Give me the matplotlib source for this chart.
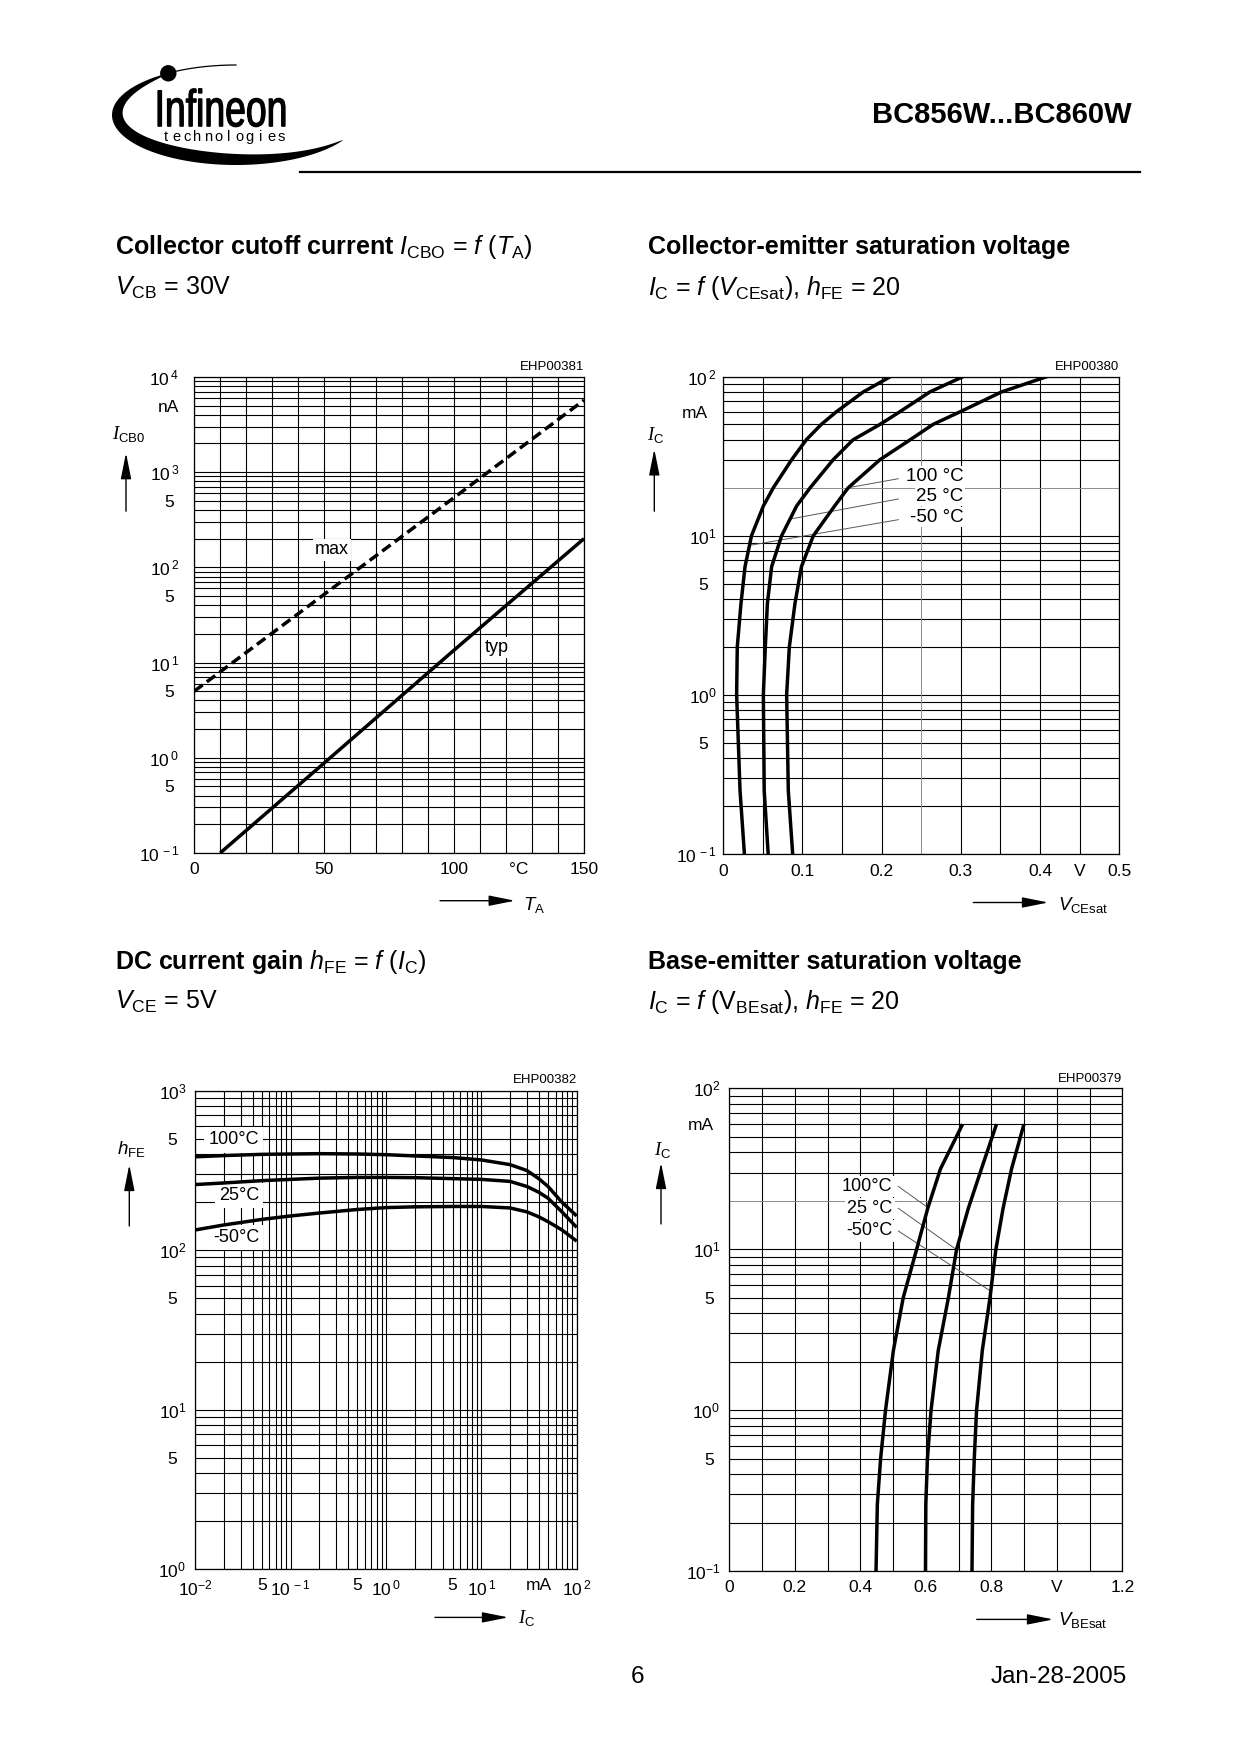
import numpy as np
import matplotlib
matplotlib.use('Agg')
import matplotlib.pyplot as plt
import matplotlib.ticker as mticker
from matplotlib.patches import Polygon, Circle, PathPatch
from matplotlib.textpath import TextPath
from matplotlib.font_manager import FontProperties
from matplotlib.transforms import Affine2D

plt.rcParams['font.family'] = ['Liberation Sans', 'DejaVu Sans']
plt.rcParams['mathtext.fontset'] = 'custom'
plt.rcParams['mathtext.rm'] = 'Liberation Sans'
plt.rcParams['mathtext.it'] = 'Liberation Sans:italic'
plt.rcParams['mathtext.bf'] = 'Liberation Sans:bold'
plt.rcParams['mathtext.sf'] = 'Liberation Serif:italic'
plt.rcParams['axes.linewidth'] = 0.9

# ---------------- data ----------------
# Collector cutoff current I_CBO (nA) vs T_A (deg C)
ta_typ = [10, 50, 100, 150]
icbo_typ = [0.1, 0.88, 13.5, 200]
ta_max = [0, 50, 100, 150]
icbo_max = [5, 52, 540, 5700]

# Collector-emitter saturation voltage: I_C (mA) vs V_CEsat (V)
ic_cesat = [0.1, 0.25, 1, 2, 3.75, 6.4, 10, 15.4, 20, 30, 40, 50, 60, 80, 100]
vcesat_m50 = [0.027, 0.0215, 0.0172, 0.018, 0.0227, 0.0278, 0.036, 0.051, 0.0635, 0.0866, 0.105, 0.124, 0.143, 0.177, 0.2115]
vcesat_25 = [0.057, 0.052, 0.0509, 0.0534, 0.056, 0.0614, 0.074, 0.093, 0.110, 0.139, 0.164, 0.198, 0.223, 0.261, 0.3032]
vcesat_100 = [0.0879, 0.0824, 0.0803, 0.0837, 0.0908, 0.099, 0.114, 0.141, 0.158, 0.198, 0.236, 0.265, 0.299, 0.3515, 0.409]

# DC current gain hFE vs I_C (mA)
ic_gain = [0.01, 0.02, 0.05, 0.1, 0.2, 0.5, 1, 2, 5, 10, 20, 30, 40, 50, 70, 100]
hfe_100 = [385, 392, 399, 401, 403, 401, 397, 390, 381, 368, 344, 316, 281, 251, 200, 164]
hfe_25 = [258, 264, 273, 278, 283, 286, 286, 285, 281, 278, 270, 251, 231, 212, 174, 139]
hfe_m50 = [134, 144, 156, 164, 171, 180, 185, 187, 188, 188, 184, 174, 162, 151, 134, 114]

# Base-emitter saturation voltage: I_C (mA) vs V_BEsat (V)
ic_besat = [0.1, 0.26, 0.5, 1, 2.35, 5, 10, 18, 31.7, 60]
vbesat_100 = [0.448, 0.452, 0.462, 0.477, 0.501, 0.531, 0.572, 0.606, 0.645, 0.7125]
vbesat_25 = [0.599, 0.600, 0.605, 0.616, 0.638, 0.669, 0.694, 0.730, 0.770, 0.816]
vbesat_m50 = [0.741, 0.743, 0.748, 0.755, 0.7725, 0.796, 0.814, 0.836, 0.862, 0.8997]

temps = ['100\u00b0C', '25\u00b0C', '-50\u00b0C']

# ---------------- figure ----------------
W, H = 1240, 1754
fig = plt.figure(figsize=(W / 100, H / 100), dpi=100)
bg = fig.add_axes([0, 0, 1, 1])
bg.set_xlim(0, W)
bg.set_ylim(H, 0)
bg.axis('off')


def box(l, t, r, b):
    return fig.add_axes([l / W, 1 - b / H, (r - l) / W, (b - t) / H])


def dec(e, sp=True):
    s = r'\,' if sp else ''
    return r'$10^{%s%d}$' % (s, e)


def log_ticks(e0, e1, labelmap, skip=()):
    vals, labs = [], []
    for e in range(e0, e1 + 1):
        for m in range(1, 10):
            if e == e1 and m > 1:
                break
            if (m, e) in skip:
                continue
            vals.append(m * 10.0 ** e)
            labs.append(labelmap.get((m, e), ''))
    return vals, labs


def style(ax, xpad, ypad, ypad_minor=None):
    ax.set_axisbelow(True)
    ax.grid(True, which='major', color='black', lw=0.8)
    ax.tick_params(which='both', length=0, labelsize=12.5)
    ax.tick_params(axis='x', which='both', pad=xpad)
    ax.tick_params(axis='y', which='major', pad=ypad)
    ax.tick_params(axis='y', which='minor', pad=ypad if ypad_minor is None else ypad_minor)
    for sp in ax.spines.values():
        sp.set_linewidth(0.9)


def minor_y(ax, vals, labels):
    ax.yaxis.remove_overlapping_locs = False
    ax.set_yticks(vals, labels, minor=True)


CURVE = dict(color='black', lw=2.5, zorder=4, solid_capstyle='butt')
LEAD = dict(color='0.35', lw=0.7, zorder=2.5)

# ---------- chart 1: I_CBO = f(T_A) ----------
ax1 = box(194.3, 376.9, 584, 852.9)
ax1.set_yscale('log')
m1 = {(1, 4): dec(4), (5, 3): 'nA', (1, 3): dec(3), (1, 2): dec(2),
      (1, 1): dec(1), (1, 0): dec(0), (1, -1): dec(-1)}
yv, yl = log_ticks(-1, 4, m1)
ax1.set_yticks(yv, yl)
minor_y(ax1, [500, 50, 5, 0.5], ['5'] * 4)
xv = list(range(0, 151, 10))
ax1.set_xticks(xv, [str(v) if v in (0, 50, 100, 150) else '' for v in xv])
ax1.set_xticks([125], ['\u00b0C'], minor=True)
ax1.set_xlim(0, 150)
ax1.set_ylim(0.1, 1e4)
style(ax1, 6.5, 11, 14.5)
ax1.plot(ta_typ, icbo_typ, **CURVE)
ax1.plot(ta_max, icbo_max, color='black', lw=2.5, zorder=4, ls=(0, (3.0, 1.5)))
ax1.text(52.9, 152, 'max', ha='center', va='center', fontsize=13, zorder=3,
         bbox=dict(fc='white', ec='none', pad=1.5))
ax1.text(116.4, 14.3, 'typ', ha='center', va='center', fontsize=13, zorder=3,
         bbox=dict(fc='white', ec='none', pad=1.5))

# ---------- chart 2: I_C = f(V_CEsat) ----------
ax2 = box(723, 376.5, 1119.3, 854)
ax2.set_yscale('log')
m2 = {(1, 2): dec(2), (1, 1): dec(1, False), (1, 0): dec(0, False), (1, -1): dec(-1)}
yv, yl = log_ticks(-1, 2, m2, skip={(2, 1)})
ax2.set_yticks(yv, yl)
minor_y(ax2, [60, 5, 0.5], ['mA', '5', '5'])
x2 = [0, 0.05, 0.1, 0.15, 0.2, 0.3, 0.35, 0.4, 0.45, 0.5]
x2l = ['0', '', '0.1', '', '0.2', '0.3', '', '0.4', 'V', '0.5']
ax2.set_xticks(x2, x2l)
ax2.set_xlim(0, 0.5)
ax2.set_ylim(0.1, 100)
style(ax2, 7, 4.5, 11)
ax2.axhline(20, color='0.55', lw=0.7, zorder=0.6)
ax2.axvline(0.25, color='0.55', lw=0.7, zorder=0.6)
ax2.plot(vcesat_m50, ic_cesat, **CURVE)
ax2.plot(vcesat_25, ic_cesat, **CURVE)
ax2.plot(vcesat_100, ic_cesat, **CURVE)
for lab, yy in zip(['100 \u00b0C', '25 \u00b0C', '-50 \u00b0C'], [23.6, 17.7, 13.1]):
    ax2.text(0.3032, yy, lab, ha='right', va='center', fontsize=13.5, zorder=3,
             bbox=dict(fc='white', ec='none', pad=1.0))
ax2.plot([0.2212, 0.158], [22.8, 20], **LEAD)
ax2.plot([0.2212, 0.084], [17.0, 12.7], **LEAD)
ax2.plot([0.2212, 0.034], [12.6, 8.7], **LEAD)

# ---------- chart 3: hFE = f(I_C) ----------
ax3 = box(195.3, 1090.7, 576.7, 1569.2)
ax3.set_xscale('log')
ax3.set_yscale('log')
m3y = {(1, 3): dec(3, False), (1, 2): dec(2, False), (1, 1): dec(1, False), (1, 0): dec(0, False)}
yv, yl = log_ticks(0, 3, m3y)
ax3.set_yticks(yv, yl)
minor_y(ax3, [500, 50, 5], ['5'] * 3)
m3x = {(1, -2): dec(-2, False), (5, -2): '5', (1, -1): dec(-1), (5, -1): '5', (1, 0): dec(0),
       (5, 0): '5', (1, 1): dec(1), (4, 1): 'mA', (1, 2): dec(2)}
xv, xl = log_ticks(-2, 2, m3x)
ax3.set_xticks(xv, xl)
ax3.xaxis.set_minor_locator(mticker.NullLocator())
ax3.set_xlim(0.01, 100)
ax3.set_ylim(1, 1000)
style(ax3, 6.5, 6.5, 13)
ax3.plot(ic_gain, hfe_100, **CURVE)
ax3.plot(ic_gain, hfe_25, **CURVE)
ax3.plot(ic_gain, hfe_m50, **CURVE)
for lab, yy in zip(temps, [491, 220, 120]):
    ax3.text(0.0466, yy, lab, ha='right', va='center', fontsize=13, zorder=3,
             bbox=dict(fc='white', ec='none', pad=3))

# ---------- chart 4: I_C = f(V_BEsat) ----------
ax4 = box(729.3, 1088.4, 1122.3, 1571.2)
ax4.set_yscale('log')
m4 = {(1, 2): dec(2, False), (1, 1): dec(1, False), (1, 0): dec(0, False), (1, -1): dec(-1, False)}
yv, yl = log_ticks(-1, 2, m4, skip={(2, 1)})
ax4.set_yticks(yv, yl)
minor_y(ax4, [60, 5, 0.5], ['mA', '5', '5'])
x4 = [round(0.1 * i, 1) for i in range(13)]
x4l = ['0', '', '0.2', '', '0.4', '', '0.6', '', '0.8', '', 'V', '', '1.2']
ax4.set_xticks(x4, x4l)
ax4.set_xlim(0, 1.2)
ax4.set_ylim(0.1, 100)
style(ax4, 6, 6.5, 11)
ax4.axhline(20, color='0.55', lw=0.7, zorder=0.6)
ax4.plot(vbesat_100, ic_besat, **CURVE)
ax4.plot(vbesat_25, ic_besat, **CURVE)
ax4.plot(vbesat_m50, ic_besat, **CURVE)
for lab, yy in zip(['100\u00b0C', '25 \u00b0C', '-50\u00b0C'], [24.6, 18.0, 13.0]):
    ax4.text(0.4987, yy, lab, ha='right', va='center', fontsize=13, zorder=3,
             bbox=dict(fc='white', ec='none', pad=1.5))
ax4.plot([0.516, 0.606], [24.6, 18.2], **LEAD)
ax4.plot([0.516, 0.694], [18.0, 9.94], **LEAD)
ax4.plot([0.516, 0.7985], [13.0, 5.49], **LEAD)

# ---------------- page decorations (pixel coordinates) ----------------
def arrow(x0, y0, x1, y1):
    bg.annotate('', xy=(x1, y1), xytext=(x0, y0),
                arrowprops=dict(arrowstyle='-|>,head_length=1.6,head_width=0.32',
                                lw=1.0, color='black', shrinkA=0, shrinkB=0,
                                mutation_scale=10))

# axis labels and arrows
bg.text(112, 439, r'$\mathsf{I}_{\mathrm{CB0}}$', fontsize=13.5, va='baseline')
arrow(126, 511.2, 126, 452.9)
bg.text(523.3, 910, r'$T_{\mathrm{A}}$', fontsize=13.5, va='baseline')
arrow(440, 900.7, 515, 900.7)

bg.text(647.3, 439.7, r'$\mathsf{I}_{\mathrm{C}}$', fontsize=13.5, va='baseline')
arrow(654.3, 511.2, 654.3, 449.1)
bg.text(1058, 910, r'$V_{\mathrm{CEsat}}$', fontsize=13.5, va='baseline')
arrow(973.3, 902.5, 1048.3, 902.5)

bg.text(116.7, 1153.6, r'$h_{\mathrm{FE}}$', fontsize=13.5, va='baseline')
arrow(129.3, 1226, 129.3, 1164.7)
bg.text(518.3, 1623.3, r'$\mathsf{I}_{\mathrm{C}}$', fontsize=13.5, va='baseline')
arrow(435, 1617.4, 508.3, 1617.4)

bg.text(654, 1154.8, r'$\mathsf{I}_{\mathrm{C}}$', fontsize=13.5, va='baseline')
arrow(661, 1224, 661, 1162.7)
bg.text(1058.3, 1625.3, r'$V_{\mathrm{BEsat}}$', fontsize=13.5, va='baseline')
arrow(976.7, 1619.4, 1053.3, 1619.4)

# drawing codes
bg.text(584, 370.3, 'EHP00381', fontsize=9.5, ha='right', va='baseline')
bg.text(1119.3, 370.3, 'EHP00380', fontsize=9.5, ha='right', va='baseline')
bg.text(576.7, 1083, 'EHP00382', fontsize=9.5, ha='right', va='baseline')
bg.text(1122.3, 1081.6, 'EHP00379', fontsize=9.5, ha='right', va='baseline')

# titles
TS = 18
bg.text(115, 254, r'$\mathbf{Collector\ cutoff\ current}$ $I_{\mathrm{CBO}}$ = $f$ ($T_{\mathrm{A}}$)',
        fontsize=TS, va='baseline')
bg.text(115, 295, r'$V_{\mathrm{CB}}$ = 30V', fontsize=TS, va='baseline')
bg.text(648, 254, 'Collector-emitter saturation voltage', fontsize=TS,
        fontweight='bold', va='baseline')
bg.text(648, 295, r'$I_{\mathrm{C}}$ = $f$ ($V_{\mathrm{CEsat}}$), $h_{\mathrm{FE}}$ = 20',
        fontsize=TS, va='baseline')
bg.text(115, 969, r'$\mathbf{DC\ current\ gain}$ $h_{\mathrm{FE}}$ = $f$ ($I_{\mathrm{C}}$)',
        fontsize=TS, va='baseline')
bg.text(115, 1009, r'$V_{\mathrm{CE}}$ = 5V', fontsize=TS, va='baseline')
bg.text(648, 969, 'Base-emitter saturation voltage', fontsize=TS,
        fontweight='bold', va='baseline')
bg.text(648, 1009, r'$I_{\mathrm{C}}$ = $f$ (V$_{\mathrm{BEsat}}$), $h_{\mathrm{FE}}$ = 20',
        fontsize=TS, va='baseline')

# header
bg.text(1132, 123.3, 'BC856W...BC860W', fontsize=21, fontweight='bold',
        ha='right', va='baseline')
bg.plot([300, 1140], [171.5, 171.5], color='black', lw=1.6)

# footer
bg.text(638, 1683.3, '6', fontsize=17.5, ha='center', va='baseline')
bg.text(1127, 1683.3, 'Jan-28-2005', fontsize=17.5, ha='right', va='baseline')

# logo
cx, cy, a, b = 236, 115, 124, 50
phi = np.radians(np.linspace(123, 330, 240))
s = (phi - phi[0]) / (phi[-1] - phi[0])
w = 13 * np.sin(np.pi * s) ** 0.7
xo, yo = cx + a * np.cos(phi), cy - b * np.sin(phi)
xi, yi = cx + (a - w) * np.cos(phi), cy - (b - w) * np.sin(phi)
poly = np.concatenate([np.c_[xo, yo], np.c_[xi, yi][::-1]])
bg.add_patch(Polygon(poly, closed=True, fc='black', ec='none'))
pt = np.radians(np.linspace(123, 90, 40))
bg.plot(cx + a * np.cos(pt), cy - b * np.sin(pt), color='black', lw=0.9)
bg.add_patch(Circle((168.3, 73.3), 8.2, fc='black', ec='none'))

fp = FontProperties(family='Liberation Sans')
tp = TextPath((0, 0), 'Infineon', size=1, prop=fp)
ext = tp.get_extents()
sx = 127 / ext.width
sy = 38 / ext.height
tr = Affine2D().translate(-ext.x0, -ext.y0).scale(sx, -sy).translate(158, 126.7)
bg.add_patch(PathPatch(tr.transform_path(tp), fc='black', ec='black', lw=0.9))
for i, ch in enumerate('technologies'):
    bg.text(166 + i * 10.5, 141, ch, fontsize=10.5, ha='center', va='baseline')

fig.savefig('out.png', dpi=100)
